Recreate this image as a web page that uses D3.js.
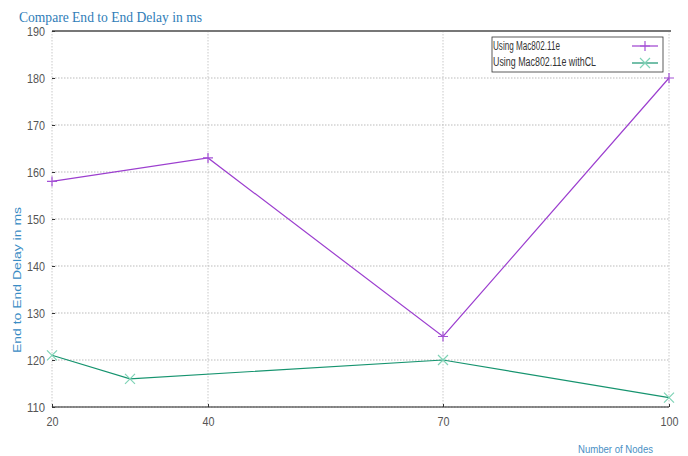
<!DOCTYPE html>
<html><head><meta charset="utf-8">
<script src="https://cdn.jsdelivr.net/npm/d3@7"></script>
<style>body{margin:0;background:#fff;}svg{display:block;}</style>
</head><body><svg id="c" width="688" height="456"></svg>
<script>
const xTicks = [20, 40, 70, 100];
const yTicks = [110, 120, 130, 140, 150, 160, 170, 180, 190];
const seriesNames = ["Using Mac802.11e", "Using Mac802.11e withCL"];
const macX = [20, 40, 70, 100];
const macY = [158, 163, 125, 180];
const clX = [20, 30, 70, 100];
const clY = [121, 116, 120, 112];

const svg = d3.select("#c");
const L = 52, R = 669, T = 31, B = 407;
const x = d3.scaleLinear().domain(xTicks).range([L, 208, 443, R]);
const y = d3.scaleLinear().domain([110, 190]).range([B, T]);
const tickFont = "'Liberation Sans',Arial,sans-serif";

// grid
const g = svg.append("g");
g.selectAll(".hg").data(yTicks).join("line")
  .attr("x1", L).attr("x2", R).attr("y1", d => y(d)).attr("y2", d => y(d))
  .attr("stroke", "#aaa").attr("stroke-width", 0.8).attr("stroke-dasharray", "1.5,1.5");
g.selectAll(".vg").data(xTicks).join("line")
  .attr("x1", d => x(d)).attr("x2", d => x(d)).attr("y1", T).attr("y2", B)
  .attr("stroke", "#bbb").attr("stroke-width", 0.8).attr("stroke-dasharray", "1.5,1.5");

// frame
svg.append("line").attr("x1", L).attr("x2", R + 2).attr("y1", T).attr("y2", T)
  .attr("stroke", "#777").attr("stroke-width", 2);
svg.append("line").attr("x1", L).attr("x2", R).attr("y1", B).attr("y2", B)
  .attr("stroke", "#222").attr("stroke-width", 1.2);

// axes
const yAxis = d3.axisLeft(y).tickValues(yTicks).tickSize(3).tickFormat(d3.format("d"));
const ya = svg.append("g").attr("transform", `translate(${L},0)`).call(yAxis);
ya.select(".domain").remove();
ya.selectAll("line").attr("stroke", "#333").attr("x1", 0).attr("x2", 3);
ya.selectAll("text").attr("font-family", tickFont).attr("font-size", 13).attr("fill", "#555").attr("x", -7)
  .attr("textLength", d => String(d).length * 6).attr("lengthAdjust", "spacingAndGlyphs");

const xAxis = d3.axisBottom(x).tickValues(xTicks).tickSize(3).tickFormat(d3.format("d"));
const xa = svg.append("g").attr("transform", `translate(0,${B})`).call(xAxis);
xa.select(".domain").remove();
xa.selectAll("line").attr("stroke", "#333").attr("y1", 0).attr("y2", -3);
xa.selectAll("text").attr("font-family", tickFont).attr("font-size", 13).attr("fill", "#555").attr("y", 10)
  .attr("textLength", d => String(d).length * 6).attr("lengthAdjust", "spacingAndGlyphs");

// lines
const line = d3.line().x(d => x(d[0])).y(d => y(d[1]));
const macData = macX.map((v, i) => [v, macY[i]]);
const clData = clX.map((v, i) => [v, clY[i]]);
const purple = "#9c3fcf", green = "#16946f", greenM = "#7fd3b6", purpleM = "#a450d6";

svg.append("path").datum(macData).attr("d", line).attr("fill", "none").attr("stroke", purple).attr("stroke-width", 1.2);
svg.append("path").datum(clData).attr("d", line).attr("fill", "none").attr("stroke", green).attr("stroke-width", 1.2);

function plus(sel, cx, cy, s, c) {
  sel.append("path").attr("d", `M${cx - s},${cy}H${cx + s}M${cx},${cy - s}V${cy + s}`).attr("stroke", c).attr("stroke-width", 1.2).attr("fill", "none");
}
function cross(sel, cx, cy, s, c) {
  sel.append("path").attr("d", `M${cx - s},${cy - s}L${cx + s},${cy + s}M${cx - s},${cy + s}L${cx + s},${cy - s}`).attr("stroke", c).attr("stroke-width", 1.2).attr("fill", "none");
}
macData.forEach(d => plus(svg, x(d[0]), y(d[1]), 5, purpleM));
clData.forEach(d => cross(svg, x(d[0]), y(d[1]), 5, greenM));

// legend
const lg = svg.append("g");
lg.append("rect").attr("x", 492).attr("y", 37).attr("width", 171).attr("height", 35)
  .attr("fill", "#fff").attr("stroke", "#333").attr("stroke-width", 0.8);
lg.append("text").attr("x", 493).attr("y", 50).text(seriesNames[0])
  .attr("font-family", tickFont).attr("font-size", 12).attr("fill", "#333")
  .attr("textLength", 67).attr("lengthAdjust", "spacingAndGlyphs");
lg.append("text").attr("x", 493).attr("y", 66).text(seriesNames[1])
  .attr("font-family", tickFont).attr("font-size", 12).attr("fill", "#333")
  .attr("textLength", 103).attr("lengthAdjust", "spacingAndGlyphs");
lg.append("line").attr("x1", 632).attr("x2", 658).attr("y1", 46).attr("y2", 46).attr("stroke", purple).attr("stroke-width", 1.2);
plus(lg, 645, 46, 5, purpleM);
lg.append("line").attr("x1", 632).attr("x2", 658).attr("y1", 63).attr("y2", 63).attr("stroke", green).attr("stroke-width", 1.2);
cross(lg, 645, 63, 5, greenM);

// titles
svg.append("text").attr("x", 19).attr("y", 22).text("Compare End to End Delay in ms")
  .attr("font-family", "'Liberation Serif','Times New Roman',serif").attr("font-size", 15)
  .attr("fill", "#2f7db8").attr("textLength", 183).attr("lengthAdjust", "spacingAndGlyphs");
svg.append("text").attr("transform", "translate(21,280) rotate(-90)").attr("text-anchor", "middle")
  .text("End to End Delay in ms").attr("font-family", "'Liberation Sans',Arial,sans-serif")
  .attr("font-size", 11.5).attr("fill", "#3a8cc4").attr("textLength", 146).attr("lengthAdjust", "spacingAndGlyphs");
svg.append("text").attr("x", 578).attr("y", 453).text("Number of Nodes")
  .attr("font-family", tickFont).attr("font-size", 11.5).attr("fill", "#4a8fc4")
  .attr("textLength", 75).attr("lengthAdjust", "spacingAndGlyphs");
</script></body></html>
